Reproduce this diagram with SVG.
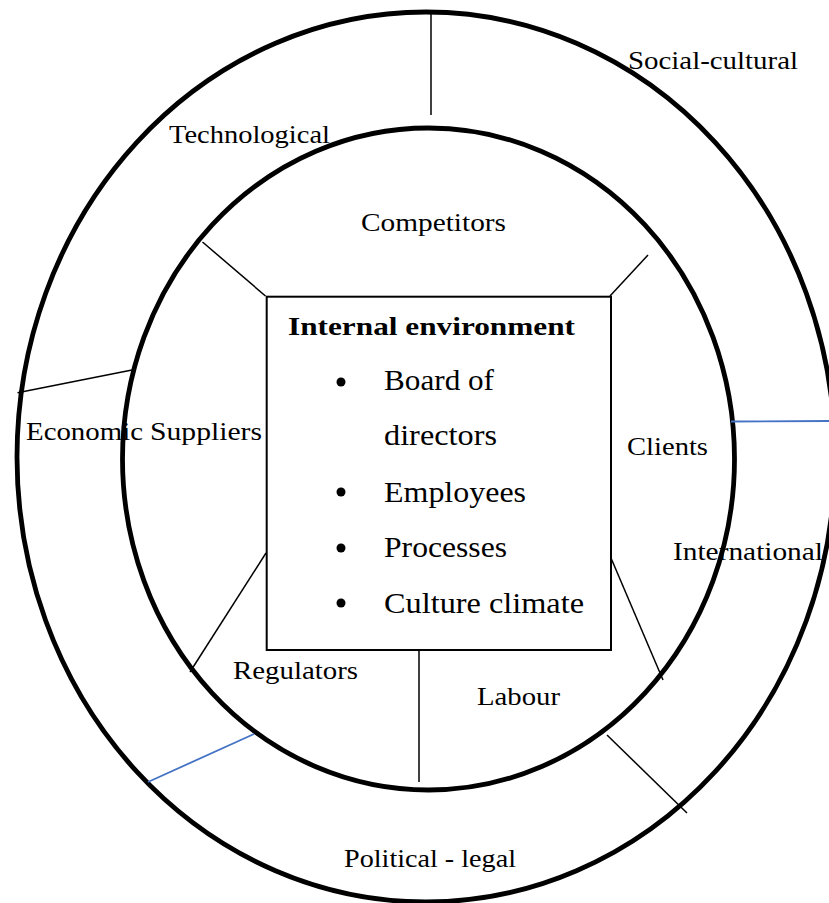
<svg xmlns="http://www.w3.org/2000/svg" width="829" height="903" viewBox="0 0 829 903">
<style>
.ring{fill:none;stroke:#000;stroke-width:4.8}
.ln{stroke:#000;stroke-width:1.5;fill:none}
.blue{stroke:#4472C4;stroke-width:1.8;fill:none}
.lbl{font-family:"Liberation Serif","DejaVu Serif",serif;font-size:25px;fill:#000}
.item{font-family:"Liberation Serif","DejaVu Serif",serif;font-size:29px;fill:#000}
.head{font-family:"Liberation Serif","DejaVu Serif",serif;font-size:26px;font-weight:bold;fill:#000}
</style>
<rect width="829" height="903" fill="#fff"/>
<g id="outer-ring">
<ellipse class="ring" cx="426" cy="457" rx="409" ry="445"/>
</g>
<g id="inner-ring">
<ellipse class="ring" cx="428.5" cy="459" rx="306" ry="331"/>
</g>
<g id="connectors">
<line class="ln" x1="431" y1="12" x2="431" y2="115"/>
<line class="ln" x1="202.5" y1="242" x2="265.5" y2="296"/>
<line class="ln" x1="648" y1="255" x2="610" y2="296"/>
<line class="ln" x1="17.5" y1="392.7" x2="132" y2="370"/>
<line class="blue" x1="731" y1="421.5" x2="829" y2="421"/>
<line class="ln" x1="266" y1="553" x2="190" y2="672"/>
<line class="ln" x1="609.5" y1="554.5" x2="663" y2="680"/>
<line class="ln" x1="419" y1="647" x2="419" y2="782"/>
<line class="blue" x1="254" y1="734" x2="148" y2="782"/>
<line class="ln" x1="607" y1="735" x2="687" y2="813"/>
</g>
<g id="internal-environment">
<rect x="266.7" y="296.7" width="344.3" height="353.3" fill="#fff" stroke="#000" stroke-width="2"/>
<text class="head" x="288" y="335" textLength="287" lengthAdjust="spacingAndGlyphs">Internal environment</text>
<circle cx="341" cy="382" r="4.5"/>
<circle cx="341" cy="492" r="4.5"/>
<circle cx="341" cy="548" r="4.5"/>
<circle cx="341" cy="603" r="4.5"/>
<text class="item" x="384" y="390" textLength="110" lengthAdjust="spacingAndGlyphs">Board of</text>
<text class="item" x="384" y="445" textLength="113" lengthAdjust="spacingAndGlyphs">directors</text>
<text class="item" x="384" y="501.5" textLength="142" lengthAdjust="spacingAndGlyphs">Employees</text>
<text class="item" x="384" y="556.5" textLength="123" lengthAdjust="spacingAndGlyphs">Processes</text>
<text class="item" x="384" y="613" textLength="200" lengthAdjust="spacingAndGlyphs">Culture climate</text>
</g>
<g id="social-cultural"><text class="lbl" x="628" y="69" textLength="170" lengthAdjust="spacingAndGlyphs">Social-cultural</text></g>
<g id="technological"><text class="lbl" x="169" y="143" textLength="161" lengthAdjust="spacingAndGlyphs">Technological</text></g>
<g id="competitors"><text class="lbl" x="361" y="231" textLength="145" lengthAdjust="spacingAndGlyphs">Competitors</text></g>
<g id="economic"><text class="lbl" x="26" y="440" textLength="117" lengthAdjust="spacingAndGlyphs">Economic</text></g>
<g id="suppliers"><text class="lbl" x="150" y="440" textLength="112" lengthAdjust="spacingAndGlyphs">Suppliers</text></g>
<g id="clients"><text class="lbl" x="627" y="455" textLength="81" lengthAdjust="spacingAndGlyphs">Clients</text></g>
<g id="international"><text class="lbl" x="673" y="560" textLength="150" lengthAdjust="spacingAndGlyphs">International</text></g>
<g id="regulators"><text class="lbl" x="233" y="679" textLength="125" lengthAdjust="spacingAndGlyphs">Regulators</text></g>
<g id="labour"><text class="lbl" x="477" y="705" textLength="83" lengthAdjust="spacingAndGlyphs">Labour</text></g>
<g id="political-legal"><text class="lbl" x="344" y="867" textLength="172" lengthAdjust="spacingAndGlyphs">Political - legal</text></g>
</svg>
